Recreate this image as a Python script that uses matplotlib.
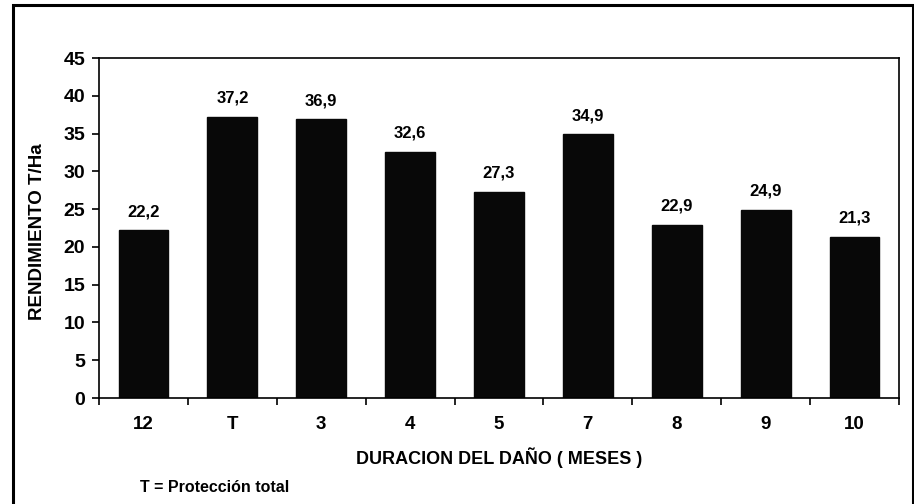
import numpy as np
import matplotlib
matplotlib.use("Agg")
import matplotlib.pyplot as plt
from matplotlib.patches import Rectangle

categories = ["12", "T", "3", "4", "5", "7", "8", "9", "10"]
rendimiento = [22.2, 37.2, 36.9, 32.6, 27.3, 34.9, 22.9, 24.9, 21.3]
value_labels = ["22,2", "37,2", "36,9", "32,6", "27,3", "34,9", "22,9", "24,9", "21,3"]
y_ticks = [0, 5, 10, 15, 20, 25, 30, 35, 40, 45]

plt.rcParams['font.family'] = ['Liberation Sans', 'DejaVu Sans']
plt.rcParams['font.weight'] = 'bold'

fig = plt.figure(figsize=(9.14, 5.04), dpi=100)
ax = fig.add_axes([0.1083, 0.2103, 0.8753, 0.6746])

x = np.arange(len(categories))
ax.bar(x, rendimiento, width=0.56, color='#080808', edgecolor='#080808')

for xi, v, lab in zip(x, rendimiento, value_labels):
    ax.annotate(lab, (xi, v), xytext=(0, 8), textcoords='offset points',
                ha='center', va='bottom', fontsize=12, fontweight='bold')

ax.set_xlim(-0.5, len(categories) - 0.5)
ax.set_ylim(0, 45)
ax.set_yticks(y_ticks)
ax.set_yticklabels([str(t) for t in y_ticks], fontsize=14, fontweight='bold')
ax.set_xticks(x)
ax.set_xticklabels(categories, fontsize=13.5, fontweight='bold')
ax.set_xticks(np.arange(len(categories) + 1) - 0.5, minor=True)
ax.tick_params(axis='x', which='major', length=0, pad=13)
ax.tick_params(axis='x', which='minor', length=5, width=1.2, direction='out')
ax.tick_params(axis='y', which='major', length=5, width=1.2, direction='out', pad=5)

for s in ax.spines.values():
    s.set_linewidth(1.2)
    s.set_color('black')

ax.set_xlabel("DURACION DEL DAÑO ( MESES )", fontsize=13, fontweight='bold', labelpad=10)
ax.set_ylabel("RENDIMIENTO T/Ha", fontsize=13.5, fontweight='bold')
ax.yaxis.set_label_coords(-0.066, 0.49)

fig.text(0.153, 0.033, "T = Protección total", fontsize=11.5, fontweight='bold', ha='left', va='center')

# outer frame of the chart
fig.patches.append(Rectangle((13 / 914, -0.02), 900 / 914, 1 - 5 / 504 + 0.02,
                             transform=fig.transFigure, fill=False,
                             edgecolor='black', linewidth=2.2, clip_on=False))

fig.savefig("out.png", dpi=100)
